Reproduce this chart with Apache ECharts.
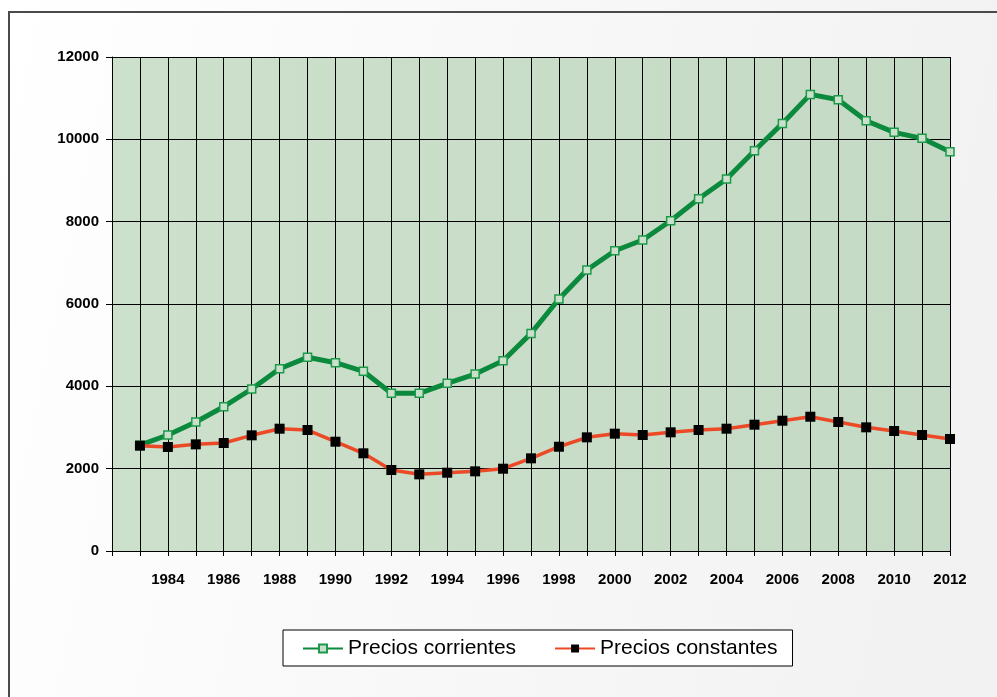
<!DOCTYPE html>
<html>
<head>
<meta charset="utf-8">
<script src="https://cdn.jsdelivr.net/npm/echarts@6/dist/echarts.min.js"></script>
<style>
  html, body { margin: 0; padding: 0; }
  #chart { width: 997px; height: 697px; }
</style>
</head>
<body>
<div id="chart"></div>
<script>
// años y valores
var years = [1983, 1984, 1985, 1986, 1987, 1988, 1989, 1990, 1991, 1992,
             1993, 1994, 1995, 1996, 1997, 1998, 1999, 2000, 2001, 2002,
             2003, 2004, 2005, 2006, 2007, 2008, 2009, 2010, 2011, 2012];
var corrientes = [2570, 2818, 3133, 3505, 3935, 4428, 4705, 4574, 4365, 3830,
                  3830, 4073, 4299, 4622, 5286, 6121, 6825, 7294, 7554, 8023,
                  8558, 9035, 9723, 10387, 11092, 10962, 10452, 10170, 10024, 9699];
var constantes = [2558, 2526, 2591, 2623, 2810, 2971, 2939, 2655, 2373, 1967,
                  1862, 1902, 1935, 1999, 2251, 2533, 2761, 2850, 2818, 2883,
                  2939, 2971, 3068, 3165, 3262, 3133, 3004, 2915, 2818, 2720];
var yTicks = [0, 2000, 4000, 6000, 8000, 10000, 12000];
var names = ['Precios corrientes', 'Precios constantes'];

function pares(vals) {
    return years.map(function (y, i) { return [y, vals[i]]; });
}

var chart = echarts.init(document.getElementById('chart'));
var option = {
    animation: false,
    backgroundColor: {
        type: 'linear', x: 0, y: 0, x2: 1, y2: 0.3,
        colorStops: [{offset: 0, color: '#ffffff'}, {offset: 1, color: '#f2f2f2'}]
    },
    graphic: [{
        type: 'rect',
        shape: {x: 9, y: 12, width: 1100, height: 800},
        style: {fill: null, stroke: '#4a4a4a', lineWidth: 2},
        silent: true
    }],
    grid: {
        left: 112, right: 47, top: 57, bottom: 146,
        show: true,
        borderWidth: 0,
        backgroundColor: {
            type: 'linear', x: 0, y: 0, x2: 1, y2: 0,
            colorStops: [{offset: 0, color: '#cce0cc'}, {offset: 1, color: '#c5dac5'}]
        }
    },
    legend: {
        data: names,
        top: 630,
        left: 283,
        itemGap: 38,
        itemWidth: 40,
        itemHeight: 10,
        padding: [8, 15, 7, 19],
        borderColor: '#000',
        borderWidth: 1,
        backgroundColor: '#fff',
        textStyle: {fontFamily: 'Liberation Sans', fontSize: 21, color: '#000'}
    },
    xAxis: {
        type: 'value',
        min: 1982, max: 2012, interval: 1,
        axisLine: {lineStyle: {color: '#000', width: 1}},
        axisTick: {show: true, length: 5, lineStyle: {color: '#000'}},
        splitLine: {show: true, lineStyle: {color: '#000', width: 1}},
        axisLabel: {
            fontFamily: 'Liberation Sans', fontSize: 15, fontWeight: 'bold', color: '#000',
            margin: 21,
            formatter: function (v) { return (v > 1982 && v % 2 === 0) ? String(v) : ''; }
        }
    },
    yAxis: {
        type: 'value',
        min: yTicks[0], max: yTicks[yTicks.length - 1], interval: 2000,
        axisLine: {show: true, lineStyle: {color: '#000', width: 1}},
        axisTick: {show: true, length: 6, lineStyle: {color: '#000'}},
        splitLine: {show: true, lineStyle: {color: '#000', width: 1}},
        axisLabel: {
            fontFamily: 'Liberation Sans', fontSize: 15, fontWeight: 'bold', color: '#000', margin: 13,
            formatter: function (v) { return String(v); }
        }
    },
    series: [{
        name: names[0],
        type: 'line',
        data: pares(corrientes),
        symbol: 'rect',
        symbolSize: 8,
        showAllSymbol: true,
        lineStyle: {color: '#0b8a3d', width: 5},
        itemStyle: {color: '#cbe0cb', borderColor: '#1b9a4a', borderWidth: 1.5},
        z: 3
    }, {
        name: names[1],
        type: 'line',
        data: pares(constantes),
        symbol: 'rect',
        symbolSize: 10,
        showAllSymbol: true,
        lineStyle: {color: '#ec4a26', width: 3.5},
        itemStyle: {color: '#000', borderColor: '#000', borderWidth: 0},
        z: 4
    }]
};
chart.setOption(option);
</script>
</body>
</html>
